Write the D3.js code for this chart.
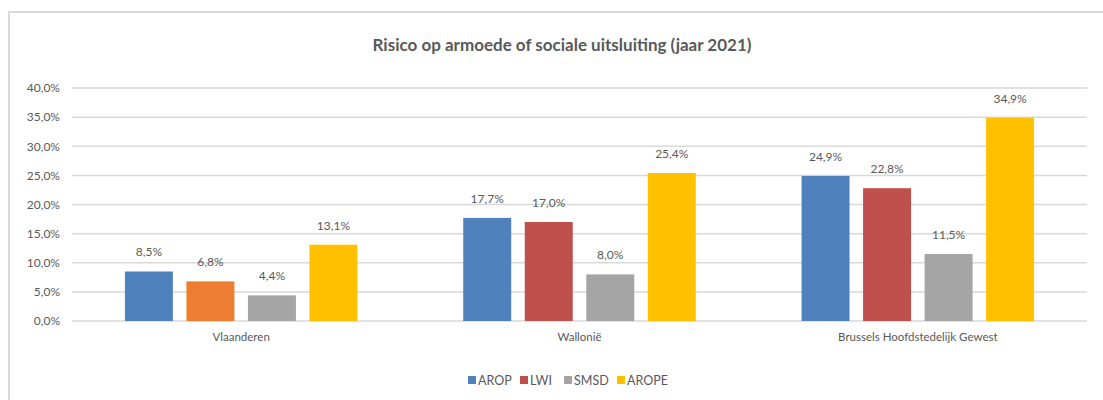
<!DOCTYPE html>
<html>
<head>
<meta charset="utf-8">
<script src="https://cdn.jsdelivr.net/npm/d3@7"></script>
<style>
  body { margin: 0; background: #fff; }
  text { font-family: Lato, "Open Sans", sans-serif; fill: #595959; }
</style>
</head>
<body>
<div id="chart"></div>
<script>
const regions = ["Vlaanderen", "Wallonië", "Brussels Hoofdstedelijk Gewest"];
const series = ["AROP", "LWI", "SMSD", "AROPE"];
const arop = [8.5, 17.7, 24.9];
const lwi = [6.8, 17.0, 22.8];
const smsd = [4.4, 8.0, 11.5];
const arope = [13.1, 25.4, 34.9];
const yTicks = [0, 5, 10, 15, 20, 25, 30, 35, 40];

const colors = { AROP: "#4f81bd", LWI: "#c0504d", SMSD: "#a5a5a5", AROPE: "#ffc000" };
const lwiVlaanderen = "#ed7d31"; // die ene balk is oranje in het origineel

const values = { AROP: arop, LWI: lwi, SMSD: smsd, AROPE: arope };

const width = 1103, height = 400;
const margin = { left: 72, right: 16, top: 88, bottom: 79 };

const svg = d3.select("#chart").append("svg")
    .attr("width", width)
    .attr("height", height);

// kader van het diagram
svg.append("path")
    .attr("d", `M9,${height + 5} V12 H${width + 5}`)
    .attr("fill", "none")
    .attr("stroke", "#d9d9d9")
    .attr("stroke-width", 2);

svg.append("text")
    .attr("x", 562)
    .attr("y", 51)
    .attr("text-anchor", "middle")
    .attr("font-size", "17px")
    .attr("font-weight", "bold")
    .text("Risico op armoede of sociale uitsluiting (jaar 2021)");

const x0 = d3.scaleBand()
    .domain(regions)
    .range([margin.left, width - margin.right]);

const x1 = d3.scaleBand()
    .domain(series)
    .range([0, x0.bandwidth()])
    .paddingInner(0.22)
    .paddingOuter(0.86);

const y = d3.scaleLinear()
    .domain([0, 40])
    .range([height - margin.bottom, margin.top]);

// rasterlijnen
svg.append("g")
    .selectAll("line")
    .data(yTicks)
    .join("line")
    .attr("x1", margin.left)
    .attr("x2", width - margin.right)
    .attr("y1", d => y(d))
    .attr("y2", d => y(d))
    .attr("stroke", "#d9d9d9")
    .attr("stroke-width", 1.5);

const yAxis = svg.append("g")
    .attr("transform", `translate(${margin.left - 12},0)`)
    .call(d3.axisLeft(y).tickValues(yTicks).tickSize(0).tickPadding(0)
        .tickFormat(d => d.toFixed(1).replace(".", ",") + "%"));
yAxis.select(".domain").remove();
yAxis.selectAll("text").attr("font-size", "12px").style("font-family", "Lato, sans-serif").attr("fill", "#595959");

const xAxis = svg.append("g")
    .attr("transform", `translate(0,${height - margin.bottom})`)
    .call(d3.axisBottom(x0).tickSize(0).tickPadding(12));
xAxis.select(".domain").remove();
xAxis.selectAll("text").attr("font-size", "11.5px").style("font-family", "Lato, sans-serif").attr("fill", "#595959");

const groups = svg.append("g")
    .selectAll("g")
    .data(regions)
    .join("g")
    .attr("transform", d => `translate(${x0(d)},0)`);

const bars = groups.selectAll("g")
    .data((r, i) => series.map(s => ({ s, r, v: values[s][i] })))
    .join("g");

bars.append("rect")
    .attr("x", d => x1(d.s))
    .attr("width", x1.bandwidth())
    .attr("y", d => y(d.v))
    .attr("height", d => y(0) - y(d.v))
    .attr("fill", d => (d.s === "LWI" && d.r === "Vlaanderen") ? lwiVlaanderen : colors[d.s]);

bars.append("text")
    .attr("x", d => x1(d.s) + x1.bandwidth() / 2)
    .attr("y", d => y(d.v) - 15)
    .attr("text-anchor", "middle")
    .attr("font-size", "12px")
    .text(d => d.v.toFixed(1).replace(".", ",") + "%");

// legenda
const legend = svg.append("g").attr("transform", "translate(0,380)");
const legendX = [468, 520, 564, 617];
series.forEach((s, i) => {
    const item = legend.append("g").attr("transform", `translate(${legendX[i]},0)`);
    item.append("rect")
        .attr("x", 0).attr("y", -4)
        .attr("width", 8).attr("height", 8)
        .attr("fill", colors[s]);
    item.append("text")
        .attr("x", 10).attr("y", 4.5)
        .attr("font-size", "12.5px")
        .text(s);
});
</script>
</body>
</html>
